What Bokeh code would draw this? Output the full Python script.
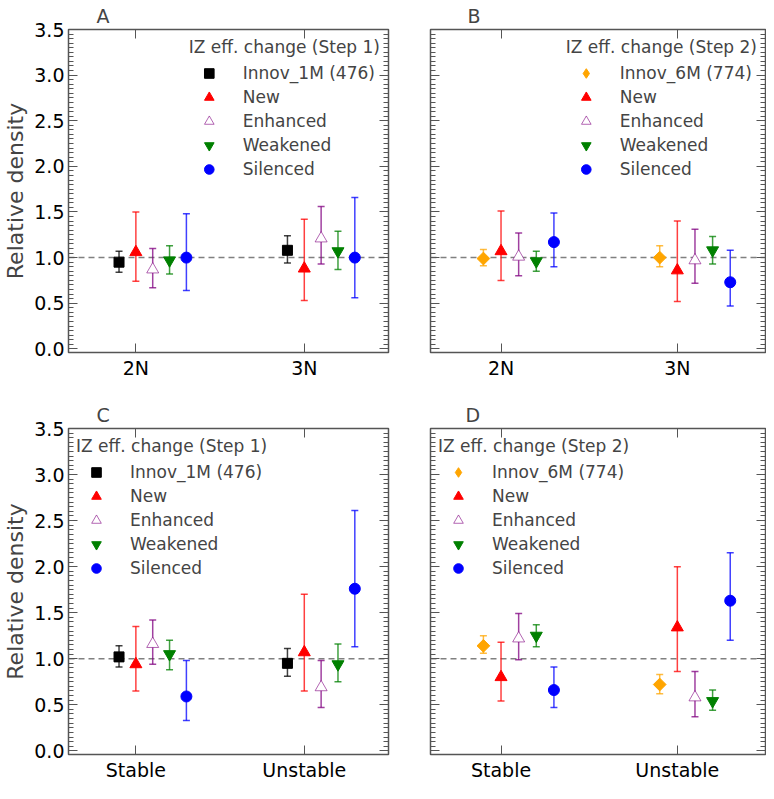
import numpy as np
from bokeh.plotting import figure
from bokeh.models import (ColumnDataSource, Range1d, FixedTicker, LinearAxis, Whisker,
                          TeeHead, Span, Legend, LegendItem, NumeralTickFormatter,
                          CustomLabelingPolicy)
from bokeh.layouts import column, row
from bokeh.embed import file_html
from bokeh.resources import INLINE

# ---------------- data ----------------
cats_top = ["2N", "3N"]
cats_bottom = ["Stable", "Unstable"]
y_major = [0.0, 0.5, 1.0, 1.5, 2.0, 2.5, 3.0, 3.5]

labels_step1 = ["Innov_1M (476)", "New", "Enhanced", "Weakened", "Silenced"]
labels_step2 = ["Innov_6M (774)", "New", "Enhanced", "Weakened", "Silenced"]
title_step1 = "IZ eff. change (Step 1)"
title_step2 = "IZ eff. change (Step 2)"

# Panel A
A_innov_mean = [0.95, 1.08]; A_innov_lo = [0.84, 0.94]; A_innov_hi = [1.07, 1.24]
A_new_mean = [1.06, 0.88];   A_new_lo = [0.74, 0.53];   A_new_hi = [1.50, 1.42]
A_enh_mean = [0.87, 1.21];   A_enh_lo = [0.67, 0.93];   A_enh_hi = [1.10, 1.56]
A_weak_mean = [0.97, 1.07];  A_weak_lo = [0.82, 0.87];  A_weak_hi = [1.13, 1.29]
A_sil_mean = [1.00, 1.00];   A_sil_lo = [0.64, 0.56];   A_sil_hi = [1.48, 1.66]

# Panel B
B_innov_mean = [0.99, 1.00]; B_innov_lo = [0.91, 0.90]; B_innov_hi = [1.09, 1.13]
B_new_mean = [1.07, 0.86];   B_new_lo = [0.75, 0.52];   B_new_hi = [1.51, 1.40]
B_enh_mean = [1.01, 0.97];   B_enh_lo = [0.80, 0.72];   B_enh_hi = [1.27, 1.31]
B_weak_mean = [0.96, 1.08];  B_weak_lo = [0.85, 0.93];  B_weak_hi = [1.07, 1.23]
B_sil_mean = [1.17, 0.73];   B_sil_lo = [0.90, 0.47];   B_sil_hi = [1.49, 1.08]

# Panel C
C_innov_mean = [1.02, 0.95]; C_innov_lo = [0.91, 0.81]; C_innov_hi = [1.14, 1.11]
C_new_mean = [0.94, 1.07];   C_new_lo = [0.65, 0.65];   C_new_hi = [1.35, 1.70]
C_enh_mean = [1.16, 0.69];   C_enh_lo = [0.94, 0.47];   C_enh_hi = [1.42, 0.98]
C_weak_mean = [1.05, 0.94];  C_weak_lo = [0.88, 0.75];  C_weak_hi = [1.20, 1.16]
C_sil_mean = [0.59, 1.76];   C_sil_lo = [0.33, 1.13];   C_sil_hi = [0.98, 2.61]

# Panel D
D_innov_mean = [1.14, 0.72]; D_innov_lo = [1.06, 0.62]; D_innov_hi = [1.25, 0.83]
D_new_mean = [0.80, 1.34];   D_new_lo = [0.54, 0.86];   D_new_hi = [1.18, 2.00]
D_enh_mean = [1.22, 0.58];   D_enh_lo = [0.99, 0.37];   D_enh_hi = [1.49, 0.86]
D_weak_mean = [1.25, 0.54];  D_weak_lo = [1.13, 0.44];  D_weak_hi = [1.37, 0.66]
D_sil_mean = [0.66, 1.63];   D_sil_lo = [0.47, 1.20];   D_sil_hi = [0.91, 2.15]

# ---------------- style ----------------
FONT = "DejaVu Sans"
FRAME = "#555555"
offsets = [-0.1, 0.0, 0.1, 0.2, 0.3]


def style_axis(ax, show_labels):
    ax.axis_line_color = None
    ax.major_tick_line_color = FRAME
    ax.minor_tick_line_color = FRAME
    ax.major_tick_line_width = 1
    ax.minor_tick_line_width = 1
    ax.major_tick_in = 9
    ax.major_tick_out = 0
    ax.minor_tick_in = 5
    ax.minor_tick_out = 0
    ax.major_label_text_font = FONT
    ax.major_label_text_color = "black"
    if show_labels:
        ax.major_label_text_font_size = "19px"
        ax.major_label_standoff = 4
    else:
        ax.major_label_text_font_size = "0px"
        ax.major_label_standoff = 0
        ax.major_label_policy = CustomLabelingPolicy(code="return []")


def make_panel(letter, cats, series, labels, ltitle, lloc, step2, ylabel,
               w, h, mb, title_offset):
    p = figure(width=w, height=h, output_backend="svg", toolbar_location=None,
               x_range=Range1d(-0.4, 1.5), y_range=Range1d(-0.04, 3.5),
               min_border_left=mb[0], min_border_right=mb[1],
               min_border_top=mb[2], min_border_bottom=mb[3])
    p.outline_line_color = FRAME
    p.outline_line_width = 1.5
    p.xgrid.visible = False
    p.ygrid.visible = False

    p.title.text = letter
    p.title.text_font = FONT
    p.title.text_font_size = "19px"
    p.title.text_font_style = "normal"
    p.title.align = "left"
    p.title.offset = title_offset
    p.title.standoff = 5

    xt = FixedTicker(ticks=list(range(len(cats))))
    y_minor = [round(i * 0.05, 2) for i in range(71)]
    yt = FixedTicker(ticks=y_major, minor_ticks=y_minor)

    xa = p.xaxis[0]
    xa.ticker = xt
    xa.major_label_overrides = {i: c for i, c in enumerate(cats)}
    style_axis(xa, True)

    ya = p.yaxis[0]
    ya.ticker = yt
    ya.formatter = NumeralTickFormatter(format="0.0")
    style_axis(ya, ylabel)
    if ylabel:
        ya.axis_label = "Relative density"
        ya.axis_label_text_font = FONT
        ya.axis_label_text_font_size = "22px"
        ya.axis_label_text_font_style = "normal"
        ya.axis_label_standoff = 3

    ra = LinearAxis(ticker=yt)
    style_axis(ra, False)
    p.add_layout(ra, "right")
    ta = LinearAxis(ticker=xt)
    style_axis(ta, False)
    p.add_layout(ta, "above")

    span = Span(location=1.0, dimension="width", line_color="#808080",
                line_width=1.5, line_dash="6 4", level="underlay")
    p.add_layout(span)

    colors = ["orange" if step2 else "black", "red", "purple", "green", "blue"]
    items = []
    for i, (mean, lo, hi) in enumerate(series):
        c = colors[i]
        xs = [k + offsets[i] for k in range(len(cats))]
        src = ColumnDataSource(dict(x=xs, y=mean, lower=lo, upper=hi))
        wk = Whisker(source=src, base="x", lower="lower", upper="upper",
                     dimension="height", line_color=c, line_alpha=0.75, line_width=1.5,
                     upper_head=TeeHead(size=7, line_color=c, line_alpha=0.75, line_width=1.5),
                     lower_head=TeeHead(size=7, line_color=c, line_alpha=0.75, line_width=1.5))
        p.add_layout(wk)
        if i == 0:
            if step2:
                r = p.scatter("x", "y", source=src, marker="square", angle=np.pi / 4,
                              size=9, fill_color=c, line_color=c)
                # legend-only stand-in (no visible data point) so the key shows a diamond
                lr = p.scatter(x=[np.nan], y=[np.nan], marker="diamond",
                               fill_color=c, line_color=c)
            else:
                r = p.scatter("x", "y", source=src, marker="square", size=10,
                              fill_color=c, line_color=c)
                lr = r
        elif i == 1:
            r = p.scatter("x", "y", source=src, marker="triangle", size=12,
                          fill_color=c, line_color=c)
            lr = r
        elif i == 2:
            r = p.scatter("x", "y", source=src, marker="triangle", size=12,
                          fill_color="white", line_color=c, line_alpha=0.6, line_width=1)
            lr = r
        elif i == 3:
            r = p.scatter("x", "y", source=src, marker="inverted_triangle", size=12,
                          fill_color=c, line_color=c)
            lr = r
        else:
            r = p.scatter("x", "y", source=src, marker="circle", size=11,
                          fill_color=c, line_color=c)
            lr = r
        items.append(LegendItem(label=labels[i], renderers=[lr]))

    legend = Legend(items=items, location=lloc, title=ltitle,
                    title_text_font=FONT, title_text_font_size="17px",
                    title_text_font_style="normal", title_standoff=4,
                    label_text_font=FONT, label_text_font_size="17px",
                    glyph_width=40, glyph_height=24, label_standoff=14,
                    spacing=0, padding=4, margin=8,
                    background_fill_alpha=0, border_line_color=None)
    p.add_layout(legend)
    return p


series_A = [(A_innov_mean, A_innov_lo, A_innov_hi), (A_new_mean, A_new_lo, A_new_hi),
            (A_enh_mean, A_enh_lo, A_enh_hi), (A_weak_mean, A_weak_lo, A_weak_hi),
            (A_sil_mean, A_sil_lo, A_sil_hi)]
series_B = [(B_innov_mean, B_innov_lo, B_innov_hi), (B_new_mean, B_new_lo, B_new_hi),
            (B_enh_mean, B_enh_lo, B_enh_hi), (B_weak_mean, B_weak_lo, B_weak_hi),
            (B_sil_mean, B_sil_lo, B_sil_hi)]
series_C = [(C_innov_mean, C_innov_lo, C_innov_hi), (C_new_mean, C_new_lo, C_new_hi),
            (C_enh_mean, C_enh_lo, C_enh_hi), (C_weak_mean, C_weak_lo, C_weak_hi),
            (C_sil_mean, C_sil_lo, C_sil_hi)]
series_D = [(D_innov_mean, D_innov_lo, D_innov_hi), (D_new_mean, D_new_lo, D_new_hi),
            (D_enh_mean, D_enh_lo, D_enh_hi), (D_weak_mean, D_weak_lo, D_weak_hi),
            (D_sil_mean, D_sil_lo, D_sil_hi)]

pA = make_panel("A", cats_top, series_A, labels_step1, title_step1, "top_right", False, True,
                408, 388, (10, 20, 22, 36), 28)
pB = make_panel("B", cats_top, series_B, labels_step2, title_step2, "top_right", True, False,
                358, 388, (22, 1, 22, 36), 37)
pC = make_panel("C", cats_bottom, series_C, labels_step1, title_step1, "top_left", False, True,
                408, 395, (10, 20, 40, 25), 28)
pD = make_panel("D", cats_bottom, series_D, labels_step2, title_step2, "top_left", True, False,
                358, 395, (22, 1, 40, 25), 35)

layout = column(row(pA, pB), row(pC, pD))

with open("out.html", "w") as f:
    f.write(file_html(layout, INLINE))
